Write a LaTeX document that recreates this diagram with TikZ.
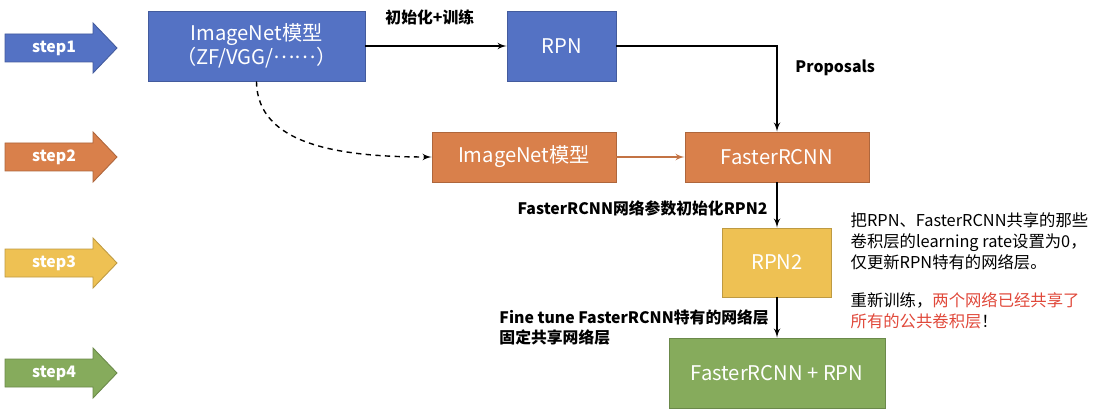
\documentclass[tikz,border=0pt]{standalone}
\usepackage{fontspec}
\setmainfont{Noto Sans CJK SC}
\usepackage{tikz}
\usetikzlibrary{arrows}
\usetikzlibrary{positioning}
\tikzstyle{line} = [draw, -latex']
\definecolor{stepblue}{HTML}{5472C4}
\definecolor{steporange}{HTML}{D9804B}
\definecolor{stepyellow}{HTML}{EEC153}
\definecolor{stepgreen}{HTML}{86AB5C}
\definecolor{notered}{HTML}{E0483A}

\begin{document}
\begin{tikzpicture}[x=0.02cm, y=-0.02cm, line width=0.8pt,
	box/.style={draw=#1!80!black, fill=#1, text=white, line width=0.5pt, inner sep=2pt, align=center, font=\fontsize{11.5}{14}\selectfont},
	lbl/.style={inner sep=1pt, font=\bfseries\fontsize{9}{11.5}\selectfont},
	note/.style={inner sep=0pt, align=left, font=\fontsize{9.3}{12}\selectfont}]
	\useasboundingbox (0,0) rectangle (1097,415);

	% step arrows
	\foreach \y/\c/\n in {48/stepblue/1, 157/steporange/2, 263/stepyellow/3, 373/stepgreen/4} {
		\draw[draw=\c!80!black, fill=\c, line width=0.5pt] (5,\y-14) -- (93,\y-14) -- (93,\y-25) -- (117,\y) -- (93,\y+25) -- (93,\y+14) -- (5,\y+14) -- cycle;
		\node[lbl, text=white] (step\n) at (54,\y) {step\n};
	}

	% boxes
	\node[box=stepblue, minimum width=4.34cm, minimum height=1.4cm] (img1) at (256.5,46) {ImageNet模型\\（ZF/VGG/\raisebox{0.3em}{……}）};
	\node[box=stepblue, minimum width=2.18cm, minimum height=1.4cm] (rpn) at (561.5,46) {RPN};
	\node[box=steporange, minimum width=3.68cm, minimum height=1cm] (img2) at (524,157) {ImageNet模型};
	\node[box=steporange, minimum width=3.68cm, minimum height=1cm] (frcnn) at (777,157) {FasterRCNN};
	\node[box=stepyellow, minimum width=2.18cm, minimum height=1.38cm] (rpn2) at (777,262.5) {RPN2};
	\node[box=stepgreen, minimum width=4.32cm, minimum height=1.4cm] (final) at (777,373) {FasterRCNN + RPN};

	% connectors
	\path[line] (img1.east) -- (rpn.west);
	\path[line] (rpn.east) -| (frcnn.north);
	\draw[dashed, dash pattern=on 3pt off 2.5pt, -latex'] (img1.south) .. controls (257,145) and (340,157) .. (img2.west);
	\draw[steporange!90!black, -latex'] (img2.east) -- (frcnn.west);
	\path[line] (frcnn.south) -- (rpn2.north);
	\path[line] (rpn2.south) -- (final.north);

	% labels
	\node[lbl, anchor=west] (l1) at (383,17) {初始化+训练};
	\node[lbl, anchor=west] (l2) at (793,68) {Proposals};
	\node[lbl, anchor=east] (l3) at (770,208) {FasterRCNN网络参数初始化RPN2};
	\node[lbl, anchor=west, align=left] (l4) at (497,327.5) {Fine tune FasterRCNN特有的网络层\\固定共享网络层};
	\node[note, anchor=west] (n1) at (850,241) {把RPN、FasterRCNN共享的那些\\卷积层的learning rate设置为0，\\仅更新RPN特有的网络层。};
	\node[note, anchor=west] (n2) at (850,310.5) {重新训练，\textcolor{notered}{两个网络已经共享了}\\\textcolor{notered}{所有的公共卷积层}！};
\end{tikzpicture}
\end{document}
